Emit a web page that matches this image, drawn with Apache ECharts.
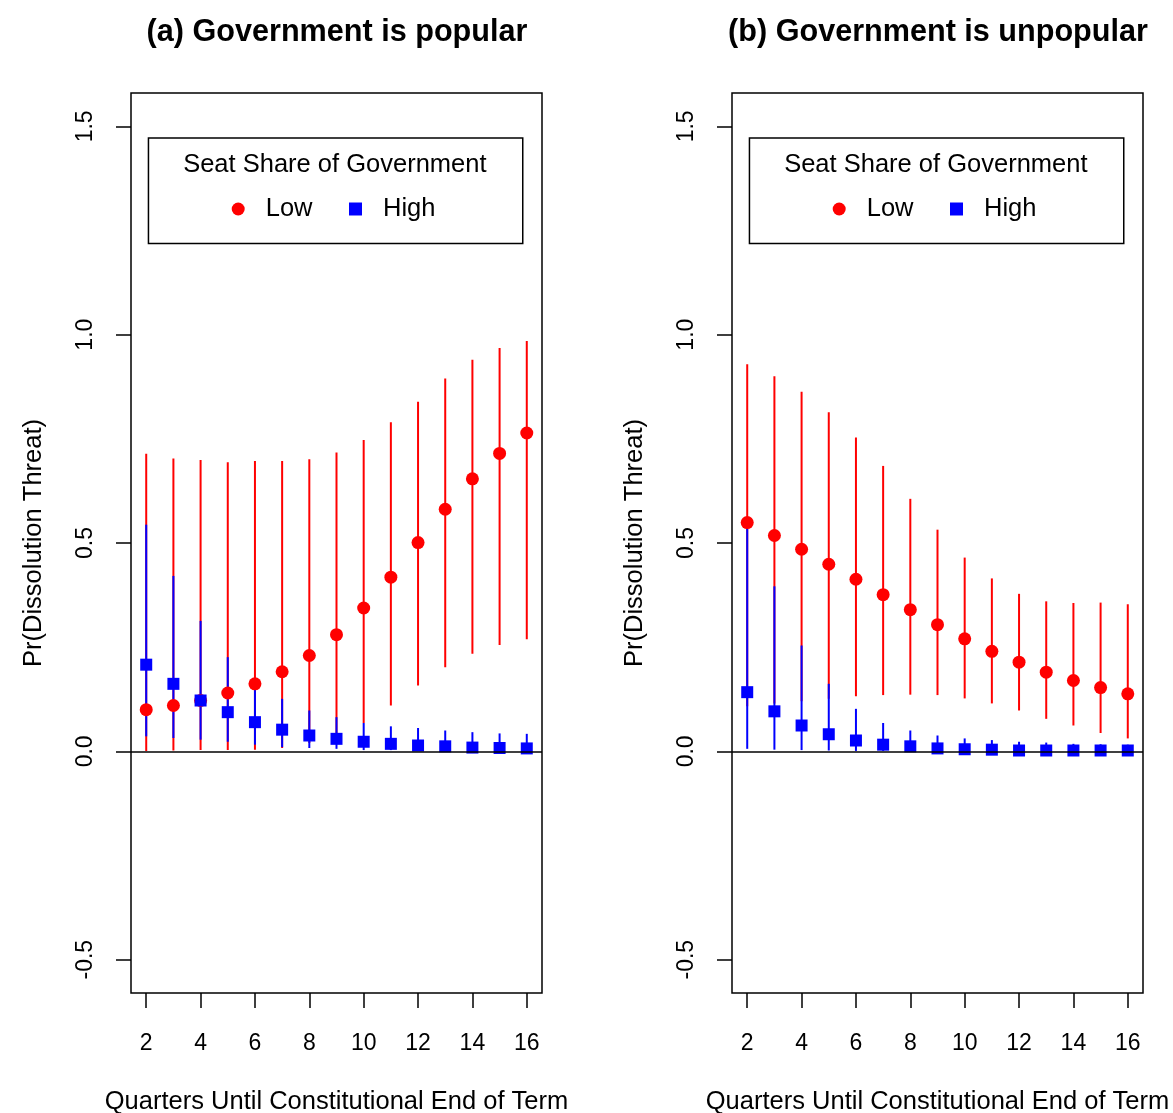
<!DOCTYPE html>
<html>
<head>
<meta charset="utf-8">
<script src="https://cdn.jsdelivr.net/npm/echarts@6/dist/echarts.min.js"></script>
<style>html,body{margin:0;padding:0;background:#fff;}#c{width:1173px;height:1113px;}</style>
</head>
<body>
<div id="c"></div>
<script>
// ---- data ----
var quarters = [2,3,4,5,6,7,8,9,10,11,12,13,14,15,16];
var xTicks = [2,4,6,8,10,12,14,16];
var yTicks = [-0.5,0,0.5,1,1.5];
var panelTitles = ['(a) Government is popular', '(b) Government is unpopular'];
var legendTitle = 'Seat Share of Government';
var seriesNames = ['Low', 'High'];
var xName = 'Quarters Until Constitutional End of Term';
var yName = 'Pr(Dissolution Threat)';

// (a) popular
var lowA   = [0.100,0.110,0.122,0.140,0.162,0.191,0.230,0.280,0.344,0.418,0.501,0.581,0.654,0.715,0.764];
var lowAlo = [0.001,0.002,0.003,0.003,0.004,0.008,0.020,0.040,0.068,0.110,0.158,0.202,0.234,0.255,0.269];
var lowAhi = [0.714,0.703,0.699,0.694,0.697,0.697,0.701,0.717,0.747,0.790,0.839,0.895,0.940,0.968,0.985];
var highA   = [0.208,0.162,0.122,0.094,0.070,0.052,0.038,0.030,0.023,0.018,0.014,0.012,0.009,0.008,0.007];
var highAlo = [0.036,0.032,0.028,0.023,0.016,0.010,0.008,0.006,0.003,0.003,0.002,0.002,0.001,0.001,0.001];
var highAhi = [0.544,0.421,0.313,0.226,0.168,0.126,0.098,0.082,0.068,0.060,0.056,0.050,0.046,0.043,0.042];

// (b) unpopular
var lowB   = [0.549,0.518,0.485,0.449,0.413,0.376,0.340,0.304,0.270,0.240,0.214,0.190,0.170,0.153,0.138];
var lowBlo = [0.108,0.115,0.120,0.126,0.132,0.135,0.136,0.135,0.127,0.115,0.098,0.078,0.062,0.044,0.031];
var lowBhi = [0.929,0.900,0.863,0.814,0.753,0.685,0.606,0.532,0.465,0.415,0.378,0.360,0.356,0.357,0.353];
var highB   = [0.142,0.096,0.062,0.041,0.026,0.016,0.012,0.007,0.005,0.004,0.002,0.002,0.002,0.002,0.002];
var highBlo = [0.006,0.004,0.003,0.002,0.001,0.001,0.000,0.000,0.000,0.000,0.000,0.000,0.000,0.000,0.000];
var highBhi = [0.561,0.396,0.254,0.162,0.102,0.068,0.050,0.038,0.031,0.027,0.023,0.021,0.018,0.017,0.016];

// ---- chart ----
var FONT = '"Liberation Sans", Arial, Helvetica, sans-serif';
var RED = '#FF0000', BLUE = '#0000FF';
var chart = echarts.init(document.getElementById('c'), null, {renderer: 'canvas'});

function pts(vals){ return quarters.map(function(q,i){ return [q, vals[i]]; }); }
function bars(lo, hi){ return quarters.map(function(q,i){ return [q, lo[i], hi[i]]; }); }
function barRenderer(color){
  return function(params, api){
    var p1 = api.coord([api.value(0), api.value(1)]);
    var p2 = api.coord([api.value(0), api.value(2)]);
    return {type:'line', shape:{x1:p1[0], y1:p1[1], x2:p2[0], y2:p2[1]},
            style:{stroke: color, lineWidth: 2}};
  };
}

var panels = [
  {low: lowA, lowLo: lowAlo, lowHi: lowAhi, high: highA, highLo: highAlo, highHi: highAhi, left: 131},
  {low: lowB, lowLo: lowBlo, lowHi: lowBhi, high: highB, highLo: highBlo, highHi: highBhi, left: 732}
];
var GW = 411, GT = 93, GH = 900;

var grids = [], xAxes = [], yAxes = [], series = [], titles = [], legends = [], graphics = [];
panels.forEach(function(p, k){
  grids.push({left: p.left, top: GT, width: GW, height: GH, show: true, containLabel: false,
              outerBoundsMode: 'none',
              borderColor: '#000', borderWidth: 1.5, backgroundColor: 'transparent'});
  xAxes.push({type: 'value', gridIndex: k, min: 1.44, max: 16.56, position: 'bottom',
    name: xName, nameLocation: 'middle', nameGap: 96,
    nameTextStyle: {fontFamily: FONT, fontSize: 25.5, color: '#000'},
    axisLine: {show: false, onZero: false},
    axisTick: {show: true, length: 15, customValues: xTicks, lineStyle: {color: '#000', width: 1.5}},
    axisLabel: {show: true, customValues: xTicks, margin: 39, fontFamily: FONT, fontSize: 23, color: '#000'},
    splitLine: {show: false}});
  yAxes.push({type: 'value', gridIndex: k, min: -0.58, max: 1.58, position: 'left',
    name: yName, nameLocation: 'middle', nameGap: 84, nameRotate: 90,
    nameTextStyle: {fontFamily: FONT, fontSize: 25.5, color: '#000'},
    axisLine: {show: false, onZero: false},
    axisTick: {show: true, length: 15, customValues: yTicks, lineStyle: {color: '#000', width: 1.5}},
    axisLabel: {show: true, customValues: yTicks, rotate: 90, margin: 34, fontFamily: FONT, fontSize: 23, color: '#000',
      formatter: function(v){ return Number(v).toFixed(1); }},
    splitLine: {show: false}});
  series.push({type: 'custom', name: 'lowBars' + k, xAxisIndex: k, yAxisIndex: k,
    renderItem: barRenderer(RED), data: bars(p.lowLo, p.lowHi), encode: {x: 0, y: [1, 2]},
    markLine: {silent: true, symbol: 'none', label: {show: false},
      lineStyle: {color: '#000', width: 1.5, type: 'solid'}, data: [{yAxis: 0}]}});
  series.push({type: 'scatter', name: seriesNames[0], xAxisIndex: k, yAxisIndex: k,
    symbol: 'circle', symbolSize: 13, itemStyle: {color: RED, opacity: 1}, data: pts(p.low)});
  series.push({type: 'custom', name: 'highBars' + k, xAxisIndex: k, yAxisIndex: k,
    renderItem: barRenderer(BLUE), data: bars(p.highLo, p.highHi), encode: {x: 0, y: [1, 2]}});
  series.push({type: 'scatter', name: seriesNames[1], xAxisIndex: k, yAxisIndex: k,
    symbol: 'rect', symbolSize: 12, itemStyle: {color: BLUE, opacity: 1}, data: pts(p.high)});

  titles.push({text: panelTitles[k], left: p.left + GW / 2 + 0.5, top: 17, textAlign: 'center', padding: 0,
    textStyle: {fontFamily: FONT, fontSize: 30.6, fontWeight: 'bold', color: '#000'}});

  legends.push({data: seriesNames, left: p.left + 100.7, top: 196, padding: 0, orient: 'horizontal',
    itemWidth: 13, itemHeight: 13, itemGap: 36.5, selectedMode: false,
    textStyle: {fontFamily: FONT, fontSize: 25.5, color: '#000', padding: [0, 0, 0, 16]}});
  // legend frame box and its title
  graphics.push({type: 'rect', left: p.left + 16.7, top: 137.3, silent: true,
    shape: {x: 0, y: 0, width: 374.3, height: 105.4},
    style: {fill: 'transparent', stroke: '#000', lineWidth: 1.5}});
  graphics.push({type: 'text', x: p.left + 16.7 + 187.15, y: 165, silent: true,
    style: {text: legendTitle, fontFamily: FONT, fontSize: 25.5, fill: '#000', align: 'center', verticalAlign: 'middle'}});
});

chart.setOption({
  backgroundColor: '#fff',
  animation: false,
  title: titles,
  legend: legends,
  grid: grids,
  xAxis: xAxes,
  yAxis: yAxes,
  series: series,
  graphic: graphics
});
</script>
</body>
</html>
